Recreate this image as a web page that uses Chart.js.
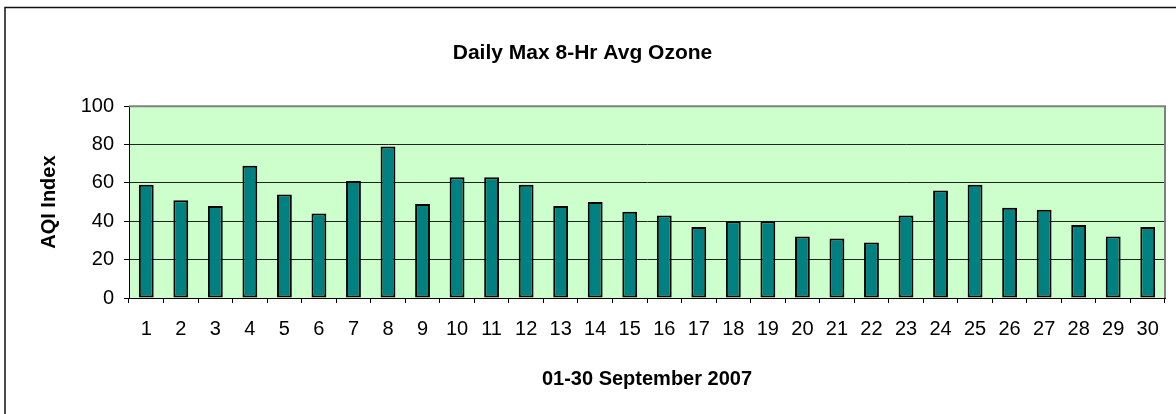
<!DOCTYPE html>
<html>
<head>
<meta charset="utf-8">
<script src="https://cdn.jsdelivr.net/npm/chart.js@4"></script>
<style>
  body { margin: 0; background: #fff; }
  canvas { display: block; }
</style>
</head>
<body>
<canvas id="myChart" width="1176" height="414"></canvas>
<script>
var days = ["1","2","3","4","5","6","7","8","9","10","11","12","13","14","15",
            "16","17","18","19","20","21","22","23","24","25","26","27","28","29","30"];
var aqiValues = [59, 51, 48, 69, 54, 44, 61, 79, 49, 63, 63, 59, 48, 50, 45,
                 43, 37, 40, 40, 32, 31, 29, 43, 56, 59, 47, 46, 38, 32, 37];
var yTicks = [0, 20, 40, 60, 80, 100];

var chartTitle = "Daily Max 8-Hr Avg Ozone";
var xTitle = "01-30 September 2007";
var yTitle = "AQI Index";

// plot background, frame and outer border like the Excel original
var framePlugin = {
    id: "frame",
    beforeDraw: function (chart) {
        var ctx = chart.ctx, a = chart.chartArea;
        ctx.save();
        ctx.fillStyle = "#fff";
        ctx.fillRect(0, 0, chart.width, chart.height);
        ctx.fillStyle = "#CCFFCC";
        ctx.fillRect(a.left, a.top, a.right - a.left, a.bottom - a.top);
        ctx.restore();
    },
    afterDraw: function (chart) {
        var ctx = chart.ctx, a = chart.chartArea;
        ctx.save();
        ctx.strokeStyle = "#808080";
        ctx.lineWidth = 2;
        ctx.beginPath();
        ctx.moveTo(a.left, a.top);
        ctx.lineTo(a.right, a.top);
        ctx.lineTo(a.right, a.bottom);
        ctx.stroke();
        ctx.strokeStyle = "#111";
        ctx.lineWidth = 1.5;
        ctx.beginPath();
        ctx.moveTo(5, chart.height + 2);
        ctx.lineTo(5, 7.5);
        ctx.lineTo(chart.width + 2, 7.5);
        ctx.stroke();
        ctx.restore();
    }
};

new Chart("myChart", {
    type: "bar",
    data: {
        labels: days,
        datasets: [{
            data: aqiValues,
            backgroundColor: "#008080",
            borderColor: "#000",
            borderWidth: 2,
            borderSkipped: false,
            barPercentage: 0.43,
            categoryPercentage: 1
        }]
    },
    options: {
        responsive: false,
        animation: false,
        layout: { padding: { left: 0, right: 11, top: 0, bottom: 0 } },
        plugins: {
            legend: { display: false },
            tooltip: { enabled: false },
            title: {
                display: true,
                text: chartTitle,
                color: "#000",
                font: { family: "Liberation Sans, Arial", size: 21, weight: "bold", lineHeight: 1.2 },
                padding: { top: 41, bottom: 40 }
            }
        },
        scales: {
            x: {
                afterFit: function (s) { s.height = 116; },
                grid: {
                    offset: true,
                    drawOnChartArea: false,
                    drawTicks: true,
                    tickLength: 5,
                    color: "#000"
                },
                border: { color: "#000", width: 1 },
                ticks: {
                    color: "#000",
                    padding: 14,
                    maxRotation: 0,
                    autoSkip: false,
                    font: { family: "Liberation Sans, Arial", size: 20 }
                },
                title: {
                    display: true,
                    text: xTitle,
                    color: "#000",
                    font: { family: "Liberation Sans, Arial", size: 20, weight: "bold", lineHeight: 1.2 },
                    padding: { top: 0, bottom: 23 }
                }
            },
            y: {
                min: 0,
                max: 100,
                afterFit: function (s) { s.width = 129; },
                afterBuildTicks: function (s) {
                    s.ticks = yTicks.map(function (v) { return { value: v }; });
                },
                grid: {
                    drawTicks: true,
                    tickLength: 5,
                    color: function (c) {
                        if (c.tick && c.tick.value === 100) return "rgba(0,0,0,0)";
                        return "#222";
                    },
                    tickColor: "#000"
                },
                border: { color: "#000", width: 1 },
                ticks: {
                    color: "#000",
                    padding: 10,
                    font: { family: "Liberation Sans, Arial", size: 20 }
                },
                title: {
                    display: true,
                    text: yTitle,
                    color: "#000",
                    font: { family: "Liberation Sans, Arial", size: 20, weight: "bold", lineHeight: 1.2 },
                    padding: { top: 37, bottom: 0 }
                }
            }
        }
    },
    plugins: [framePlugin]
});
</script>
</body>
</html>
